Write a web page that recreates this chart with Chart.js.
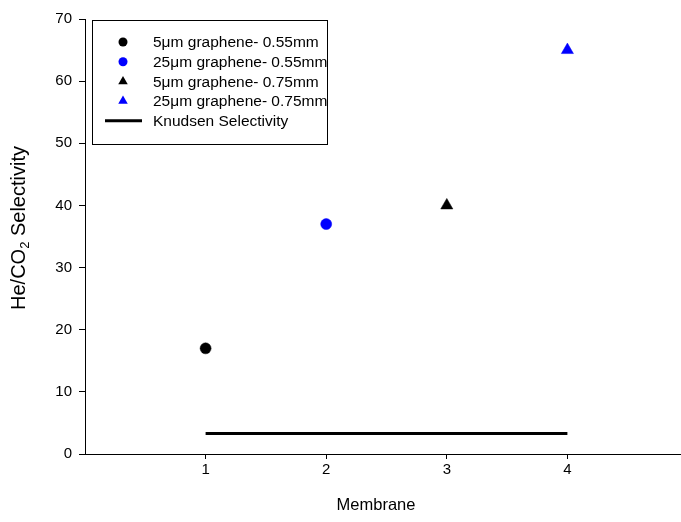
<!DOCTYPE html>
<html><head><meta charset="utf-8">
<script src="https://cdn.jsdelivr.net/npm/chart.js@4/dist/chart.umd.min.js"></script>
<style>html,body{margin:0;padding:0;background:#fff;overflow:hidden}
#wrap{position:relative;width:700px;height:522px}</style>
</head><body><div id="wrap"><canvas id="c" width="700" height="522"></canvas></div>
<script>
// ---- data ----
const seriesLabels = ["5\u03bcm graphene- 0.55mm", "25\u03bcm graphene- 0.55mm", "5\u03bcm graphene- 0.75mm", "25\u03bcm graphene- 0.75mm", "Knudsen Selectivity"];
const membrane = [1, 2, 3, 4];
const selectivity = [17, 37, 40, 65];
const knudsenX = [1, 4];
const knudsenY = [3.3, 3.3];
const xTickValues = [1, 2, 3, 4];
const yTickValues = [0, 10, 20, 30, 40, 50, 60, 70];
const xTitle = "Membrane";
const yTitleParts = ["He/CO", "2", " Selectivity"];

const FONT = "'Liberation Sans', Arial, sans-serif";
const styles = [
  {color: '#000000', shape: 'circle'},
  {color: '#0000ff', shape: 'circle'},
  {color: '#000000', shape: 'triangle'},
  {color: '#0000ff', shape: 'triangle'}
];

const datasets = membrane.map((m, i) => ({
  type: 'scatter',
  label: seriesLabels[i],
  data: [{x: m, y: selectivity[i]}],
  pointStyle: styles[i].shape,
  pointRadius: styles[i].shape === 'circle' ? 5.5 : 7,
  pointBackgroundColor: styles[i].color,
  pointBorderColor: styles[i].color,
  pointBorderWidth: 0.5
}));
datasets.push({
  type: 'line',
  label: seriesLabels[4],
  data: knudsenX.map((x, i) => ({x: x, y: knudsenY[i]})),
  borderColor: '#000000',
  borderWidth: 3,
  pointRadius: 0,
  showLine: true,
  fill: false
});

function drawMarker(ctx, shape, x, y, r, color) {
  ctx.save();
  ctx.fillStyle = color;
  ctx.beginPath();
  if (shape === 'circle') {
    ctx.arc(x, y, r, 0, Math.PI * 2);
  } else {
    let a = 0;
    ctx.moveTo(x + Math.sin(a) * r, y - Math.cos(a) * r);
    a += Math.PI * 2 / 3;
    ctx.lineTo(x + Math.sin(a) * r, y - Math.cos(a) * r);
    a += Math.PI * 2 / 3;
    ctx.lineTo(x + Math.sin(a) * r, y - Math.cos(a) * r);
    ctx.closePath();
  }
  ctx.fill();
  ctx.restore();
}

const decor = {
  id: 'decor',
  afterDraw(chart) {
    const ctx = chart.ctx;
    ctx.save();
    // legend box
    ctx.strokeStyle = '#000';
    ctx.lineWidth = 1;
    ctx.strokeRect(92.5, 20.5, 235, 124);
    ctx.font = '15.5px ' + FONT;
    ctx.fillStyle = '#000';
    ctx.textBaseline = 'middle';
    ctx.textAlign = 'left';
    chart.data.datasets.forEach((ds, i) => {
      const y = 42 + i * 19.7;
      if (ds.type === 'line') {
        ctx.save();
        ctx.strokeStyle = ds.borderColor;
        ctx.lineWidth = 3;
        ctx.beginPath();
        ctx.moveTo(105, y);
        ctx.lineTo(142, y);
        ctx.stroke();
        ctx.restore();
      } else {
        drawMarker(ctx, ds.pointStyle, 123, y, ds.pointStyle === 'circle' ? 4.5 : 5.5, ds.pointBackgroundColor);
      }
      ctx.fillStyle = '#000';
      ctx.fillText(ds.label, 153, y + 1);
    });
    // x title
    ctx.font = '16.5px ' + FONT;
    ctx.textAlign = 'center';
    ctx.textBaseline = 'middle';
    ctx.fillText(xTitle, 376, 505);
    // y title with subscript
    ctx.save();
    ctx.translate(19, 228);
    ctx.rotate(-Math.PI / 2);
    ctx.textAlign = 'left';
    ctx.textBaseline = 'middle';
    const big = '20px ' + FONT, small = '13px ' + FONT;
    ctx.font = big; const w0 = ctx.measureText(yTitleParts[0]).width;
    ctx.font = small; const w1 = ctx.measureText(yTitleParts[1]).width;
    ctx.font = big; const w2 = ctx.measureText(yTitleParts[2]).width;
    let x = -(w0 + w1 + w2) / 2;
    ctx.font = big; ctx.fillText(yTitleParts[0], x, 0); x += w0;
    ctx.font = small; ctx.fillText(yTitleParts[1], x, 6.5); x += w1;
    ctx.font = big; ctx.fillText(yTitleParts[2], x, 0);
    ctx.restore();
    ctx.restore();
  }
};

new Chart(document.getElementById('c'), {
  data: {datasets: datasets},
  options: {
    responsive: false,
    animation: false,
    devicePixelRatio: 1,
    layout: {padding: {left: 0, top: 19, right: 12, bottom: 0}},
    plugins: {legend: {display: false}, tooltip: {enabled: false}},
    scales: {
      x: {
        type: 'linear', min: 0, max: 5,
        afterBuildTicks: (axis) => { axis.ticks = xTickValues.map(v => ({value: v})); },
        afterFit: (scale) => { scale.height = 68; },
        grid: {display: true, drawOnChartArea: false, drawTicks: true, tickLength: 5, color: '#000', lineWidth: 1},
        border: {display: true, color: '#000', width: 1},
        ticks: {color: '#000', font: {size: 15, family: FONT}, padding: 2, maxRotation: 0}
      },
      y: {
        type: 'linear', min: 0, max: 70,
        afterBuildTicks: (axis) => { axis.ticks = yTickValues.map(v => ({value: v})); },
        afterFit: (scale) => { scale.width = 85; },
        grid: {display: true, drawOnChartArea: false, drawTicks: true, tickLength: 6, color: '#000', lineWidth: 1},
        border: {display: true, color: '#000', width: 1},
        ticks: {color: '#000', font: {size: 15, family: FONT}, padding: 7}
      }
    }
  },
  plugins: [decor]
});
</script></body></html>
